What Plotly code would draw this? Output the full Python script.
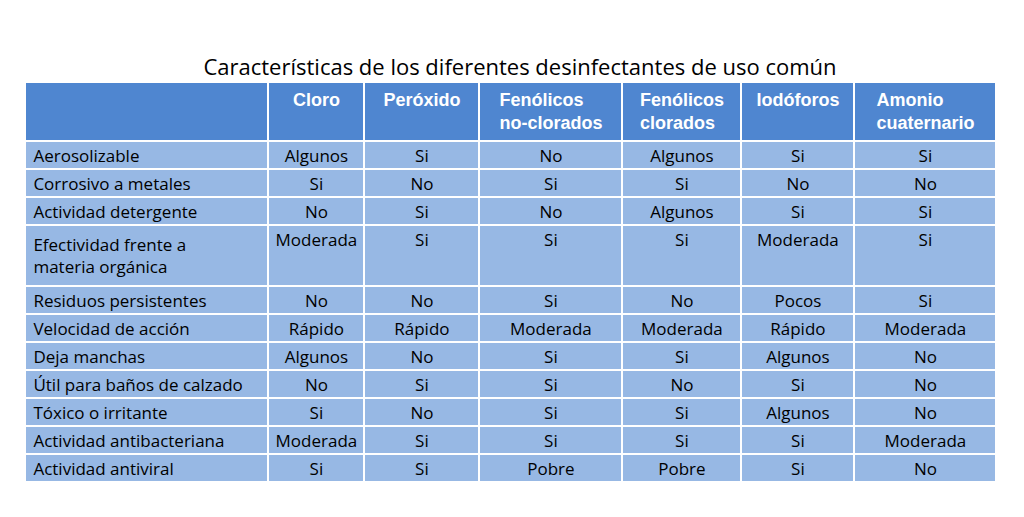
import plotly.graph_objects as go

# Table contents
columns = ["", "Cloro", "Peróxido", "Fenólicos<br>no-clorados", "Fenólicos<br>clorados",
           "Iodóforos", "Amonio<br>cuaternario"]
properties = ["Aerosolizable", "Corrosivo a metales", "Actividad detergente",
              "Efectividad frente a<br>materia orgánica", "Residuos persistentes",
              "Velocidad de acción", "Deja manchas", "Útil para baños de calzado",
              "Tóxico o irritante", "Actividad antibacteriana", "Actividad antiviral"]
cloro = ["Algunos", "Si", "No", "Moderada", "No", "Rápido", "Algunos", "No", "Si", "Moderada", "Si"]
peroxido = ["Si", "No", "Si", "Si", "No", "Rápido", "No", "Si", "No", "Si", "Si"]
fenolicos_nc = ["No", "Si", "No", "Si", "Si", "Moderada", "Si", "Si", "Si", "Si", "Pobre"]
fenolicos_c = ["Algunos", "Si", "Algunos", "Si", "No", "Moderada", "Si", "No", "Si", "Si", "Pobre"]
iodoforos = ["Si", "No", "Si", "Moderada", "Pocos", "Rápido", "Algunos", "Si", "Algunos", "Si", "Si"]
amonio = ["Si", "No", "Si", "Si", "Si", "Moderada", "No", "No", "No", "Moderada", "No"]

col_widths = [243, 96, 115, 143, 119, 113, 142]

fig = go.Figure(go.Table(
    domain=dict(x=[0.017, 0.966], y=[0.0, 0.857]),
    columnwidth=col_widths,
    header=dict(
        values=["<b>%s</b>" % c for c in columns],
        fill_color="#4f86d0",
        line=dict(color="white", width=2),
        align="center",
        height=57,
        font=dict(family="Liberation Sans", size=18, color="white"),
    ),
    cells=dict(
        values=[properties, cloro, peroxido, fenolicos_nc, fenolicos_c, iodoforos, amonio],
        fill_color="#97b8e4",
        line=dict(color="white", width=2),
        align=["left"] + ["center"] * 6,
        height=28,
        font=dict(family="Open Sans", size=17, color="black"),
    ),
))

fig.update_layout(
    width=1024, height=517,
    margin=dict(l=0, r=0, t=0, b=0),
    paper_bgcolor="white",
    title=dict(text="Características de los diferentes desinfectantes de uso común",
               x=0.5, xanchor="center", y=0.885, yanchor="middle",
               font=dict(family="Open Sans", size=22, color="black")),
)

fig.write_html("out.html")
